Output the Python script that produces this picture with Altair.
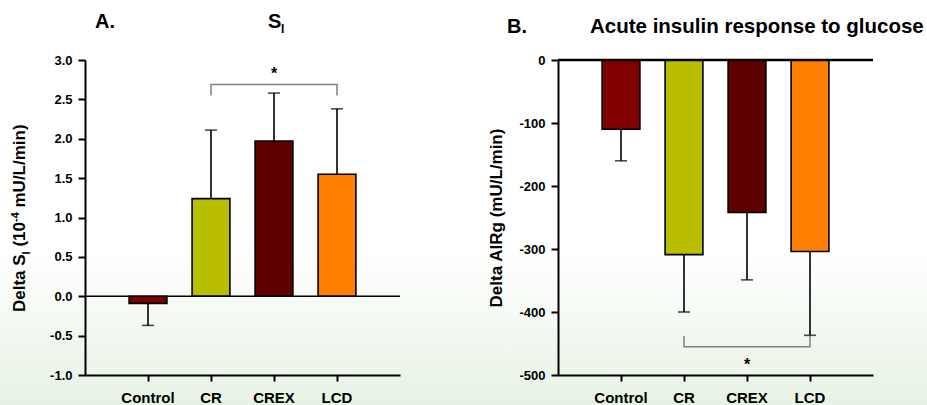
import altair as alt
import pandas as pd

# ---------------- data ----------------
cats = ["Control", "CR", "CREX", "LCD"]
colors = ["#800000", "#b9bf00", "#600000", "#ff8000"]

si_mean = [-0.09, 1.24, 1.97, 1.55]
si_err_end = [-0.37, 2.11, 2.58, 2.38]
air_mean = [-110, -309, -242, -304]
air_err_end = [-160, -400, -349, -437]

si_ticks = [-1.0, -0.5, 0.0, 0.5, 1.0, 1.5, 2.0, 2.5, 3.0]
si_domain = [-1.0, 3.0]
air_ticks = [0, -100, -200, -300, -400, -500]
air_domain = [-500, 0]

# significance brackets (CR vs LCD)
si_bracket_cats = ["CR", "CR", "LCD", "LCD"]
si_bracket_y = [2.55, 2.69, 2.69, 2.55]
si_star_cat, si_star_y = "CREX", 2.87
air_bracket_cats = ["CR", "CR", "LCD", "LCD"]
air_bracket_y = [-438, -455, -455, -438]
air_star_cat, air_star_y = "CREX", -477
star_label = "*"

title_a_letter = "A."
title_a_main = "S"
title_a_sub = "I"
title_b_letter = "B."
title_b_main = "Acute insulin response to glucose"
ytitle_a_parts = ["Delta S", "I", "(10", "-4", "mU/L/min)"]
ytitle_b = "Delta AIRg (mU/L/min)"

# ---------------- layout ----------------
W, H = 927, 405
Y_RANGE = [375, 60]
A_X = [85, 400]
B_X = [558, 873]
FONT = "Liberation Sans"

one = pd.DataFrame({"k": [0]})


def panel(mean, err, ticks, domain, xrange, b_cats, b_y, star_cat, star_y,
          ytitle, label_fmt, title_pad, zero_width):
    df = pd.DataFrame({"cat": cats, "color": colors, "mean": mean, "err": err})

    def xscale():
        return alt.Scale(type="band", domain=cats, range=xrange, paddingInner=0.4, paddingOuter=0.7)

    def yscale():
        return alt.Scale(domain=domain, range=Y_RANGE, nice=False)

    common = dict(zindex=1, domainColor="black", domainWidth=2, tickColor="black", tickWidth=2,
                  labelColor="black", titleColor="black", labelFont=FONT, titleFont=FONT,
                  labelFontWeight="bold", titleFontWeight="bold", grid=False)
    xaxis = alt.Axis(orient="bottom", offset=Y_RANGE[0] - H, title=None, labelAngle=0,
                     labelFontSize=15, tickSize=6, labelPadding=9, **common)
    yaxis = alt.Axis(orient="left", offset=-xrange[0], values=ticks,
                     labelExpr="(datum.value < 0 ? '-' : '') + format(abs(datum.value), '%s')" % label_fmt,
                     title=ytitle, titlePadding=title_pad, titleFontSize=17,
                     labelFontSize=13, tickSize=7, labelPadding=6, **common)

    def xe(f="cat:N", axis=None):
        return alt.X(f, sort=cats, scale=xscale(), axis=axis)

    def ye(f, axis=None):
        return alt.Y(f, scale=yscale(), axis=axis)

    bars = alt.Chart(df).mark_bar(stroke="black", strokeWidth=1.6).encode(
        x=xe(axis=xaxis), y=ye("mean:Q", axis=yaxis), y2=alt.datum(0),
        fill=alt.Fill("color:N", scale=None))
    errs = alt.Chart(df).mark_rule(color="black", strokeWidth=1.6).encode(
        x=xe(), y=ye("mean:Q"), y2="err:Q")
    caps = alt.Chart(df).mark_tick(color="black", thickness=1.6, size=12).encode(
        x=xe(), y=ye("err:Q"))
    zero = alt.Chart(pd.DataFrame({"z": [0]})).mark_rule(color="black", strokeWidth=zero_width).encode(
        y=ye("z:Q"), x=alt.value(xrange[0]), x2=alt.value(xrange[1]))
    bdf = pd.DataFrame({"cat": b_cats, "by": b_y, "i": list(range(len(b_cats)))})
    bracket = alt.Chart(bdf).mark_line(color="#808080", strokeWidth=1.5).encode(
        x=xe(), y=ye("by:Q"), order="i:Q")
    sdf = pd.DataFrame({"cat": [star_cat], "sy": [star_y], "s": [star_label]})
    star = alt.Chart(sdf).mark_text(font=FONT, fontSize=16, fontWeight="bold", baseline="middle",
                                   dy=4, color="black").encode(
        x=xe(), y=ye("sy:Q"), text="s:N")
    return [bars, errs, caps, zero, bracket, star]


def txt(s, x, y, size, angle=0, align="left"):
    return alt.Chart(pd.DataFrame({"t": [s]})).mark_text(
        font=FONT, fontSize=size, fontWeight="bold", align=align, baseline="alphabetic",
        angle=angle, color="black").encode(x=alt.value(x), y=alt.value(y), text="t:N")


bg = alt.Chart(one).mark_rect(
    fill=alt.Gradient(gradient="linear", x1=0, x2=0, y1=0, y2=1,
                      stops=[alt.GradientStop(color="#ffffff", offset=0),
                             alt.GradientStop(color="#ffffff", offset=0.62),
                             alt.GradientStop(color="#e7f2e4", offset=1)])
).encode(x=alt.value(0), x2=alt.value(W), y=alt.value(0), y2=alt.value(H))

panel_a = panel(si_mean, si_err_end, si_ticks, si_domain, A_X, si_bracket_cats, si_bracket_y,
                si_star_cat, si_star_y, None, ".1f", 10, 1.5)
panel_b = panel(air_mean, air_err_end, air_ticks, air_domain, B_X, air_bracket_cats, air_bracket_y,
                air_star_cat, air_star_y, ytitle_b, "d", 13, 2.5)

titles = [
    txt(title_a_letter, 95, 27.5, 20),
    txt(title_a_main, 268, 27.5, 20),
    txt(title_a_sub, 281, 33, 12),
    txt(title_b_letter, 507, 33, 20),
    txt(title_b_main, 590, 33, 20.5),
    # composite rotated y-axis title for panel A (subscript / superscript)
    txt(ytitle_a_parts[0], 25, 312, 17, angle=270),
    txt(ytitle_a_parts[1], 30, 254.4, 11, angle=270),
    txt(ytitle_a_parts[2], 25, 246.6, 17, angle=270),
    txt(ytitle_a_parts[3], 19, 222, 11, angle=270),
    txt(ytitle_a_parts[4], 25, 207.5, 17, angle=270),
]

chart = alt.layer(bg, *panel_a, *panel_b, *titles).resolve_scale(
    x="independent", y="independent"
).resolve_axis(
    x="independent", y="independent"
).properties(
    width=W, height=H, padding=0, autosize=alt.AutoSizeParams(type="none"), background="white"
).configure_view(stroke=None)

chart.save("out.html", embed_options={"renderer": "svg", "actions": False})
